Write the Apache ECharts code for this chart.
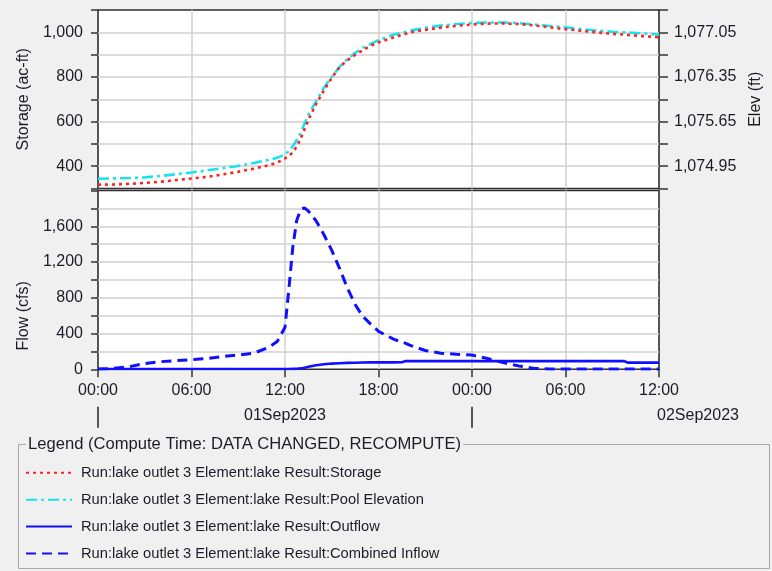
<!DOCTYPE html>
<html><head><meta charset="utf-8">
<script src="https://cdn.jsdelivr.net/npm/echarts@6/dist/echarts.min.js"></script>
<style>html,body{margin:0;padding:0;background:#f0f0f0}#c{width:772px;height:571px}</style>
</head><body><div id="c"></div><script>
// hours after 01Sep2023 00:00
const hours = [0,1,2,3,4,5,6,7,8,9,10,11,11.5,12,12.25,12.5,12.75,13,13.25,13.5,14,14.5,15,15.5,16,16.5,17,17.5,18,19,19.5,19.75,20,21,22,23,24,25,26,27,28,29,30,31,32,33,33.75,34,35,36];
// Storage (ac-ft)
const storage = [317,318,321,325,330,338,345,352,363,375,389,405,
  416,435,446,462,488,522,565,608,
  679,740,796,844,875,899,920,940,955,
  978,988,993,
  999,1011,1021,1029,1035,1039,1040,1037,1031,1022,1014,1007,1000,993,
  990,988,983,978];
// Pool Elevation (ft)
const poolElev = [1074.754,1074.758,1074.764,1074.775,1074.796,1074.824,1074.852,1074.884,1074.918,1074.954,1074.999,1075.052,
  1075.083,1075.132,1075.188,1075.262,1075.360,1075.472,1075.615,1075.755,
  1075.972,1076.182,1076.350,1076.508,1076.630,1076.728,1076.805,1076.868,1076.928,
  1077.015,1077.043,1077.057,
  1077.075,1077.120,1077.155,1077.180,1077.197,1077.204,1077.204,1077.194,1077.172,1077.148,1077.127,1077.102,1077.078,1077.060,
  1077.050,1077.046,1077.032,1077.015];
// Outflow (cfs)
const outflow = [3,3,3,3,3,3,3,3,3,3,3,4,
  4,4,4,5,6,10,18,28,
  45,56,64,68,72,74,76,78,78,
  78,79,92,
  92,92,92,92,92,92,92,92,92,92,92,92,92,92,
  92,75,75,75];
// Combined Inflow (cfs)
const inflow = [3,10,28,65,85,97,108,122,142,160,180,250,
  310,470,900,1366,1664,1785,1805,1770,
  1660,1505,1330,1130,910,725,590,505,425,
  335,305,290,
  270,210,180,168,160,120,75,38,10,4,4,4,4,4,
  4,4,4,4];

const seriesNames = [
  'Run:lake outlet 3 Element:lake Result:Storage',
  'Run:lake outlet 3 Element:lake Result:Pool Elevation',
  'Run:lake outlet 3 Element:lake Result:Outflow',
  'Run:lake outlet 3 Element:lake Result:Combined Inflow'
];
const storageTicks = [400,600,800,1000];
const elevTicks = [1074.60,1074.95,1075.30,1075.65,1076.00,1076.35,1076.70,1077.05,1077.40];
const elevLabels = [1074.95,1075.65,1076.35,1077.05];
const flowTicks = [0,400,800,1200,1600];
const dayTicks = [0,24];
const dayLabelPos = [12,36];
const dayLabels = ['01Sep2023','02Sep2023'];
const legendTitle = 'Legend (Compute Time: DATA CHANGED, RECOMPUTE)';

const FONT = 'Liberation Sans, Arial, sans-serif';
const TXT = '#1c1c28';
const pair = arr => hours.map((h,i)=>[h,arr[i]]);
const fmtInt = v => Math.round(v).toLocaleString('en-US');
const fmtElev = v => v.toLocaleString('en-US',{minimumFractionDigits:2,maximumFractionDigits:2});
const fmtHour = v => String(Math.round(v)%24).padStart(2,'0') + ':00';

const gridLine = {show:true, showMinLine:false, showMaxLine:false, lineStyle:{color:'#cfcfcf', width:1.5}};
const tickStyle = {color:'#333', width:1.5};

const chart = echarts.init(document.getElementById('c'), null, {renderer:'canvas'});
chart.setOption({
  backgroundColor:'#f0f0f0',
  animation:false,
  textStyle:{fontFamily:FONT},
  grid:[
    {left:98, top:10, width:561, height:178.5, show:true, backgroundColor:'#fff', borderColor:'#2e2e2e', borderWidth:1.6},
    {left:98, top:190.5, width:561, height:178.8, show:true, backgroundColor:'#fff', borderColor:'#2e2e2e', borderWidth:1.6}
  ],
  xAxis:[
    {gridIndex:0, type:'value', min:0, max:36, interval:6, axisLine:{show:false}, axisTick:{show:false}, axisLabel:{show:false}, splitLine:gridLine},
    {gridIndex:1, type:'value', min:0, max:36, interval:6, axisLine:{show:false},
     axisTick:{show:true, length:8, lineStyle:tickStyle},
     axisLabel:{show:true, formatter:fmtHour, fontSize:16, color:TXT, margin:13, fontFamily:FONT},
     splitLine:gridLine},
    {gridIndex:1, type:'value', min:0, max:36, position:'bottom', offset:37.5, axisLine:{show:false},
     axisTick:{show:true, length:21, customValues:dayTicks, lineStyle:{color:'#222', width:1.5}},
     axisLabel:{show:true, customValues:dayLabelPos, margin:1, fontSize:16, color:TXT, fontFamily:FONT,
       formatter:(v)=> v===dayLabelPos[0] ? dayLabels[0] : '{r|'+dayLabels[1]+'}',
       rich:{r:{padding:[0,0,0,78], fontSize:16, color:TXT, fontFamily:FONT}}},
     splitLine:{show:false}}
  ],
  yAxis:[
    {gridIndex:0, type:'value', min:300, max:1100, interval:100, axisLine:{show:false},
     axisTick:{show:true, length:7, lineStyle:tickStyle},
     axisLabel:{customValues:storageTicks, formatter:fmtInt, fontSize:16, color:TXT, margin:15, fontFamily:FONT},
     splitLine:gridLine,
     name:'Storage (ac-ft)', nameLocation:'middle', nameGap:66, nameTextStyle:{fontSize:16, color:TXT, fontFamily:FONT}},
    {gridIndex:0, type:'value', position:'right', min:1074.6, max:1077.4, axisLine:{show:false},
     axisTick:{show:true, length:9, customValues:elevTicks, lineStyle:tickStyle},
     axisLabel:{customValues:elevLabels, formatter:fmtElev, fontSize:16, color:TXT, margin:15, fontFamily:FONT},
     splitLine:{show:false},
     name:'Elev (ft)', nameLocation:'middle', nameGap:86, nameTextStyle:{fontSize:16, color:TXT, fontFamily:FONT}},
    {gridIndex:1, type:'value', min:0, max:2000, interval:200, axisLine:{show:false},
     axisTick:{show:true, length:7, lineStyle:tickStyle},
     axisLabel:{customValues:flowTicks, formatter:fmtInt, fontSize:16, color:TXT, margin:15, fontFamily:FONT},
     splitLine:gridLine,
     name:'Flow (cfs)', nameLocation:'middle', nameGap:66, nameTextStyle:{fontSize:16, color:TXT, fontFamily:FONT, padding:[0,72,0,0]}}
  ],
  legend:{
    orient:'vertical', left:25, top:465.3, padding:0, itemWidth:46, itemHeight:14, itemGap:11.9,
    itemStyle:{opacity:0, borderWidth:0},
    textStyle:{fontSize:14.7, color:TXT, fontFamily:FONT, padding:[0,0,0,4]},
    data:seriesNames
  },
  graphic:[
    {type:'rect', shape:{x:18.5, y:444.5, width:751, height:124}, style:{fill:null, stroke:'#a8a8a8', lineWidth:1}, silent:true},
    {type:'text', left:26, top:436, style:{text:legendTitle, fontSize:16.6, fill:TXT, fontFamily:FONT, backgroundColor:'#f0f0f0', padding:[0,2,0,2]}, silent:true}
  ],
  series:[
    {name:seriesNames[0], type:'line', xAxisIndex:0, yAxisIndex:0, data:pair(storage), symbol:'none',
     lineStyle:{color:'#ff2020', width:2.6, type:[3,4]}, itemStyle:{color:'#ff2020'}, z:3},
    {name:seriesNames[1], type:'line', xAxisIndex:0, yAxisIndex:1, data:pair(poolElev), symbol:'none',
     lineStyle:{color:'#17e3ee', width:2.6, type:[11,4,3,4]}, itemStyle:{color:'#17e3ee'}, z:2},
    {name:seriesNames[2], type:'line', xAxisIndex:1, yAxisIndex:2, data:pair(outflow), symbol:'none',
     lineStyle:{color:'#1010ff', width:2.6}, itemStyle:{color:'#1010ff'}, z:2},
    {name:seriesNames[3], type:'line', xAxisIndex:1, yAxisIndex:2, data:pair(inflow), symbol:'none',
     lineStyle:{color:'#1010ff', width:3, type:[10,6]}, itemStyle:{color:'#1010ff'}, z:3}
  ]
});
</script></body></html>
